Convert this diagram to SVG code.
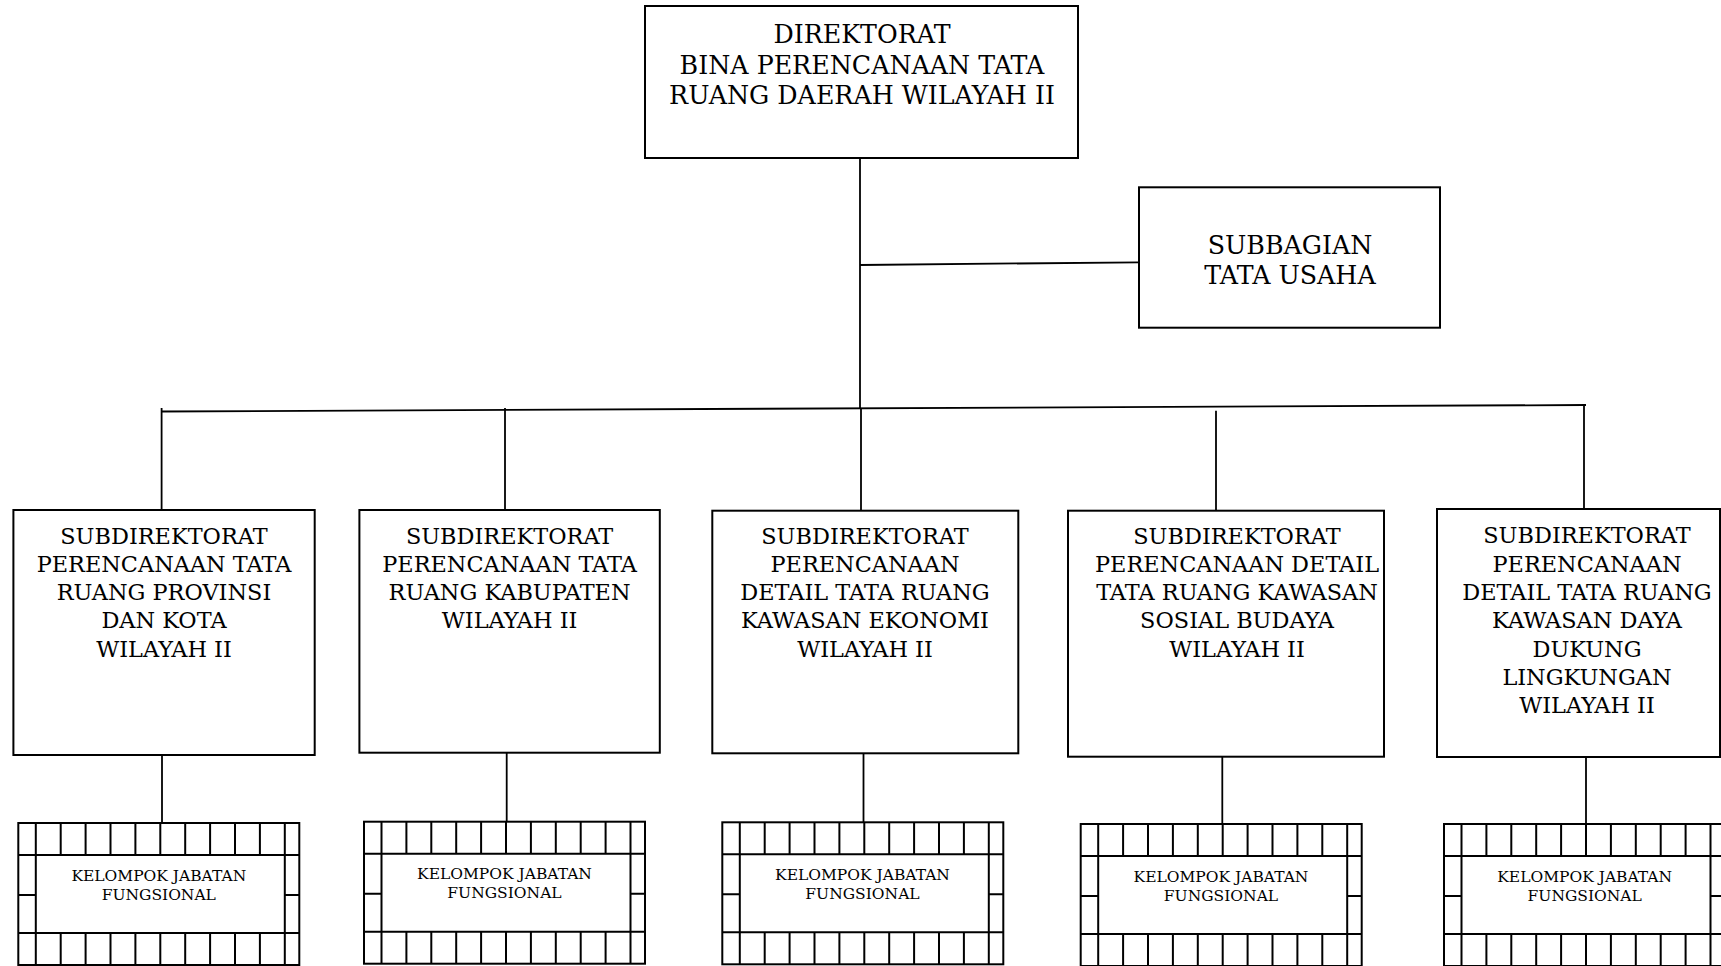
<svg xmlns="http://www.w3.org/2000/svg" xmlns:xlink="http://www.w3.org/1999/xlink" width="1721" height="966" viewBox="0 0 1721 966">
<style>
.box{fill:#fff;stroke:#000;stroke-width:2}
.conn{fill:none;stroke:#000;stroke-width:1.8}
.t1{font-family:"DejaVu Serif","Liberation Serif",serif;font-size:25.3px;fill:#000;text-anchor:middle}
.t2{font-family:"DejaVu Serif","Liberation Serif",serif;font-size:22.4px;fill:#000;text-anchor:middle}
.t3{font-family:"DejaVu Serif","Liberation Serif",serif;font-size:15.5px;fill:#000;text-anchor:middle}
.grid{fill:none;stroke:#000;stroke-width:2}
</style>
<defs>
<g id="frame">
<rect class="box" x="0" y="0" width="281" height="142"/>
<path class="grid" d="M0,32H281 M0,110H281 M17.5,0V142 M266.5,0V142 M0,72H17.5 M266.5,72H281 M42.4,0V32 M67.3,0V32 M92.2,0V32 M117.1,0V32 M142,0V32 M166.9,0V32 M191.8,0V32 M216.7,0V32 M241.6,0V32 M42.4,110V142 M67.3,110V142 M92.2,110V142 M117.1,110V142 M142,110V142 M166.9,110V142 M191.8,110V142 M216.7,110V142 M241.6,110V142"/>
</g>
</defs>
<rect x="0" y="0" width="1721" height="966" fill="#fff"/>
<g id="connectors">
<line class="conn" x1="860" y1="158" x2="860" y2="408.5"/>
<line class="conn" x1="860" y1="265" x2="1139" y2="262.3"/>
<line class="conn" x1="161.5" y1="411.5" x2="1586" y2="405"/>
<line class="conn" x1="161.6" y1="408" x2="161.6" y2="510"/>
<line class="conn" x1="505" y1="408" x2="505" y2="510"/>
<line class="conn" x1="861" y1="408" x2="861" y2="510.7"/>
<line class="conn" x1="1216" y1="410.7" x2="1216" y2="512"/>
<line class="conn" x1="1584" y1="405" x2="1584" y2="509"/>
<line class="conn" x1="162" y1="755" x2="162" y2="823"/>
<line class="conn" x1="506.7" y1="753" x2="506.7" y2="821.7"/>
<line class="conn" x1="863.5" y1="753.3" x2="863.5" y2="822.3"/>
<line class="conn" x1="1222.3" y1="756.7" x2="1222.3" y2="824"/>
<line class="conn" x1="1586" y1="757" x2="1586" y2="824"/>
</g>
<g id="direktorat">
<rect class="box" x="645" y="6" width="433" height="152"/>
<text class="t1" x="862" y="43">DIREKTORAT</text>
<text class="t1" x="862" y="74">BINA PERENCANAAN TATA</text>
<text class="t1" x="862" y="104">RUANG DAERAH WILAYAH II</text>
</g>
<g id="subbagian">
<rect class="box" x="1139" y="187.3" width="301" height="140.4"/>
<text class="t1" x="1290" y="254">SUBBAGIAN</text>
<text class="t1" x="1290" y="284">TATA USAHA</text>
</g>
<g id="subdit1">
<rect class="box" x="13.4" y="510" width="301.3" height="245"/>
<text class="t2" x="164" y="544">SUBDIREKTORAT</text>
<text class="t2" x="164" y="572">PERENCANAAN TATA</text>
<text class="t2" x="164" y="600">RUANG PROVINSI</text>
<text class="t2" x="164" y="628">DAN KOTA</text>
<text class="t2" x="164" y="656.5">WILAYAH II</text>
</g>
<g id="subdit2">
<rect class="box" x="359.4" y="510" width="300.4" height="242.7"/>
<text class="t2" x="509.6" y="544">SUBDIREKTORAT</text>
<text class="t2" x="509.6" y="572">PERENCANAAN TATA</text>
<text class="t2" x="509.6" y="600">RUANG KABUPATEN</text>
<text class="t2" x="509.6" y="628">WILAYAH II</text>
</g>
<g id="subdit3">
<rect class="box" x="712.3" y="510.7" width="306" height="242.6"/>
<text class="t2" x="865" y="544">SUBDIREKTORAT</text>
<text class="t2" x="865" y="572">PERENCANAAN</text>
<text class="t2" x="865" y="600">DETAIL TATA RUANG</text>
<text class="t2" x="865" y="628">KAWASAN EKONOMI</text>
<text class="t2" x="865" y="656.5">WILAYAH II</text>
</g>
<g id="subdit4">
<rect class="box" x="1068" y="510.7" width="316" height="246"/>
<text class="t2" x="1237" y="544">SUBDIREKTORAT</text>
<text class="t2" x="1237" y="572">PERENCANAAN DETAIL</text>
<text class="t2" x="1237" y="600">TATA RUANG KAWASAN</text>
<text class="t2" x="1237" y="628">SOSIAL BUDAYA</text>
<text class="t2" x="1237" y="656.5">WILAYAH II</text>
</g>
<g id="subdit5">
<rect class="box" x="1437" y="509" width="283" height="248"/>
<text class="t2" x="1587" y="543">SUBDIREKTORAT</text>
<text class="t2" x="1587" y="571.5">PERENCANAAN</text>
<text class="t2" x="1587" y="600">DETAIL TATA RUANG</text>
<text class="t2" x="1587" y="628">KAWASAN DAYA</text>
<text class="t2" x="1587" y="656.5">DUKUNG</text>
<text class="t2" x="1587" y="685">LINGKUNGAN</text>
<text class="t2" x="1587" y="713">WILAYAH II</text>
</g>
<g id="jf1">
<use xlink:href="#frame" transform="translate(18.3,823)"/>
<text class="t3" x="158.8" y="880.5">KELOMPOK JABATAN</text>
<text class="t3" x="158.8" y="899.5">FUNGSIONAL</text>
</g>
<g id="jf2">
<use xlink:href="#frame" transform="translate(364,821.7)"/>
<text class="t3" x="504.5" y="878.5">KELOMPOK JABATAN</text>
<text class="t3" x="504.5" y="897.7">FUNGSIONAL</text>
</g>
<g id="jf3">
<use xlink:href="#frame" transform="translate(722.3,822.3)"/>
<text class="t3" x="862.5" y="880">KELOMPOK JABATAN</text>
<text class="t3" x="862.5" y="898.5">FUNGSIONAL</text>
</g>
<g id="jf4">
<use xlink:href="#frame" transform="translate(1080.7,824)"/>
<text class="t3" x="1221" y="881.7">KELOMPOK JABATAN</text>
<text class="t3" x="1221" y="901">FUNGSIONAL</text>
</g>
<g id="jf5">
<use xlink:href="#frame" transform="translate(1444,824)"/>
<text class="t3" x="1584.7" y="881.7">KELOMPOK JABATAN</text>
<text class="t3" x="1584.7" y="901">FUNGSIONAL</text>
</g>
</svg>
